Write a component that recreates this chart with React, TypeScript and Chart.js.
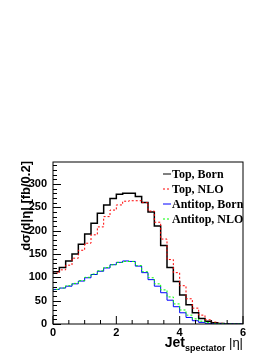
import React, { useEffect, useRef } from "react";
import { Chart, registerables } from "chart.js";

Chart.register(...registerables);

// Bin edges of |eta| (bin width 0.2)
const binEdges = [
  0, 0.2, 0.4, 0.6, 0.8, 1.0, 1.2, 1.4, 1.6, 1.8, 2.0, 2.2, 2.4, 2.6, 2.8, 3.0,
  3.2, 3.4, 3.6, 3.8, 4.0, 4.2, 4.4, 4.6, 4.8, 5.0, 5.2, 5.4, 5.6, 5.8, 6.0,
];

const topBorn = [
  108, 112, 121, 135, 150, 171, 193, 216, 237, 255, 269, 278, 280, 280, 273,
  260, 240, 210, 168, 121, 91, 62, 41, 24, 12, 6, 2.5, 1, 0.4, 0.1,
];
const topNLO = [
  107, 109, 116, 126, 141, 158, 173, 191, 208, 230, 244, 255, 263, 264, 264,
  260, 242, 218, 182, 138, 110, 82, 54, 34, 19, 9, 4, 1.5, 0.5, 0.2,
];
const antitopBorn = [
  71, 74, 77, 81, 86, 92, 99, 106, 113, 120, 127, 132, 135, 134, 124, 110, 95,
  81, 67, 51, 37, 24, 14, 7, 3.5, 1.5, 0.7, 0.3, 0.1, 0.05,
];
const antitopNLO = [
  72, 74, 77, 82, 87, 93, 100, 107, 114, 121, 127, 132, 134, 134, 125, 112, 99,
  86, 73, 58, 43, 30, 19, 11, 6, 3, 1.4, 0.6, 0.2, 0.1,
];

const seriesLabels = ["Top, Born", "Top, NLO", "Antitop, Born", "Antitop, NLO"];
const yTickStep = 50;
const xTickStep = 2;

function histPoints(vals: number[]) {
  const pts = vals.map((v, i) => ({ x: binEdges[i], y: v }));
  pts.push({ x: binEdges[vals.length], y: vals[vals.length - 1] });
  return pts;
}

const rootDecor = {
  id: "rootDecor",
  afterDraw(chart: any) {
    const ctx = chart.ctx as CanvasRenderingContext2D;
    const { left, right, top, bottom } = chart.chartArea;
    const xs = chart.scales.x;
    const ys = chart.scales.y;
    ctx.save();
    // frame
    ctx.strokeStyle = "#000";
    ctx.lineWidth = 1;
    ctx.setLineDash([]);
    ctx.strokeRect(left, top, right - left, bottom - top);
    // ticks (inward)
    ctx.beginPath();
    for (let v = 0; v <= ys.max; v += 10) {
      const y = Math.round(ys.getPixelForValue(v)) + 0.5;
      const len = v % 50 === 0 ? 8 : 4;
      ctx.moveTo(left, y);
      ctx.lineTo(left + len, y);
    }
    for (let v = 0; v <= xs.max + 1e-9; v += 0.5) {
      const x = xs.getPixelForValue(v);
      const len = Math.abs(v % 2) < 1e-9 ? 8 : 4;
      ctx.moveTo(x, bottom);
      ctx.lineTo(x, bottom - len);
    }
    ctx.stroke();

    // legend
    const lx0 = right - 80;
    const lx1 = right - 72;
    const tx = right - 71;
    ctx.font = "bold 12px 'Liberation Serif'";
    ctx.textBaseline = "middle";
    ctx.textAlign = "left";
    chart.data.datasets.forEach((ds: any, i: number) => {
      const cy = top + 11.5 + i * 15;
      ctx.strokeStyle = ds.borderColor;
      ctx.lineWidth = 1;
      ctx.setLineDash(ds.borderDash || []);
      ctx.beginPath();
      ctx.moveTo(lx0, cy + 0.5);
      ctx.lineTo(lx1, cy + 0.5);
      ctx.stroke();
      ctx.fillStyle = "#000";
      ctx.fillText(ds.label, tx, cy + 1);
    });
    ctx.setLineDash([]);

    // x title: Jet_{spectator} |eta|
    const base = bottom + 23;
    const p1 = "Jet";
    const p2 = "spectator";
    const p3 = " |η|";
    ctx.textBaseline = "alphabetic";
    ctx.font = "bold 14px 'Liberation Sans'";
    const w1 = ctx.measureText(p1).width;
    ctx.font = "bold 9px 'Liberation Sans'";
    const w2 = ctx.measureText(p2).width;
    ctx.font = "13px 'Liberation Sans'";
    const w3 = ctx.measureText(p3).width;
    let x0 = right - (w1 + w2 + w3);
    ctx.fillStyle = "#000";
    ctx.font = "bold 14px 'Liberation Sans'";
    ctx.fillText(p1, x0, base);
    x0 += w1;
    ctx.font = "bold 9px 'Liberation Sans'";
    ctx.fillText(p2, x0, base + 4);
    x0 += w2;
    ctx.font = "13px 'Liberation Sans'";
    ctx.fillText(p3, x0, base);

    // y title
    ctx.translate(left - 23.5, top - 1);
    ctx.rotate(-Math.PI / 2);
    ctx.font = "bold 13px 'Liberation Sans'";
    ctx.textAlign = "right";
    ctx.fillText("dσ/d|η| [fb/0.2]", 0, 0);
    ctx.restore();
  },
};

export default function App() {
  const ref = useRef<HTMLCanvasElement | null>(null);
  useEffect(() => {
    if (!ref.current) return;
    const colors = ["#000000", "#ff0000", "#0000ff", "#00ff00"];
    const dashes = [[], [2, 2], [], [2, 2]];
    const widths = [1.5, 1, 1, 1];
    const series = [topBorn, topNLO, antitopBorn, antitopNLO];
    const chart = new Chart(ref.current, {
      type: "line",
      data: {
        datasets: series.map((vals, i) => ({
          label: seriesLabels[i],
          data: histPoints(vals),
          borderColor: colors[i],
          borderDash: dashes[i],
          borderWidth: widths[i],
          stepped: "after" as const,
          pointRadius: 0,
          fill: false,
          order: 4 - i,
        })),
      },
      options: {
        responsive: false,
        animation: false,
        events: [],
        layout: { padding: { left: 0, top: 162, right: 31, bottom: 0 } },
        plugins: { legend: { display: false }, tooltip: { enabled: false } },
        scales: {
          x: {
            type: "linear",
            min: 0,
            max: 6,
            grid: { display: false, drawTicks: false },
            border: { display: false },
            ticks: {
              stepSize: xTickStep,
              padding: 2,
              color: "#000",
              maxRotation: 0,
              font: { family: "'Liberation Sans'", size: 11, weight: "bold" },
            },
            afterFit: (s: any) => {
              s.height = 31;
            },
          },
          y: {
            type: "linear",
            min: 0,
            max: 347,
            grid: { display: false, drawTicks: false },
            border: { display: false },
            ticks: {
              stepSize: yTickStep,
              includeBounds: false,
              padding: 6,
              color: "#000",
              font: { family: "'Liberation Sans'", size: 11, weight: "bold" },
            },
            afterFit: (s: any) => {
              s.width = 53;
            },
          },
        },
      },
      plugins: [rootDecor],
    });
    return () => chart.destroy();
  }, []);
  return (
    <div style={{ position: "fixed", left: 0, top: 0, width: 274, height: 355, background: "#fff" }}>
      <canvas ref={ref} width={274} height={355} />
    </div>
  );
}
